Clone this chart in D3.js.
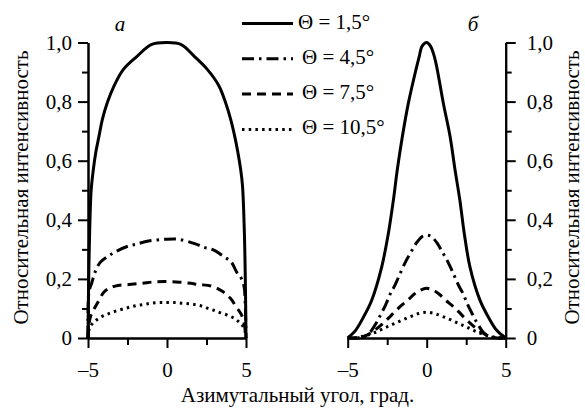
<!DOCTYPE html>
<html>
<head>
<meta charset="utf-8">
<script src="https://cdn.jsdelivr.net/npm/d3@7"></script>
</head>
<body style="margin:0;background:#fff">
<svg id="chart" width="585" height="414"></svg>
<script>
// Azimuthal intensity profiles for four tilt angles Θ, panels (а) and (б).
const seriesLabels = ["Θ = 1,5°", "Θ = 4,5°", "Θ = 7,5°", "Θ = 10,5°"];
const dashStyles = ["none", "12,5,2.5,5", "9,6", "2.5,4.2"];

const xTicksMajor = [-5, 0, 5];
const xTicksMinor = [-2.5, 2.5];
const yTicksMajor = [0, 0.2, 0.4, 0.6, 0.8, 1.0];
const yTicksMinor = [0.1, 0.3, 0.5, 0.7, 0.9];

// Panel а: [azimuth, relative intensity]
const a15 = [[-5, 0], [-4.97, 0.15], [-4.9, 0.35], [-4.8, 0.5], [-4.66, 0.571], [-4.51, 0.627],
  [-4.3, 0.684], [-4.09, 0.74], [-3.78, 0.796], [-3.35, 0.853], [-2.76, 0.909], [-1.88, 0.954],
  [-1.0, 0.993], [0, 1.0], [0.9, 0.993], [1.71, 0.954], [2.55, 0.909], [3.29, 0.853],
  [3.71, 0.796], [4.03, 0.74], [4.28, 0.684], [4.49, 0.627], [4.66, 0.571], [4.78, 0.514],
  [4.9, 0.35], [4.97, 0.15], [5, 0]];
const a45 = [[-5, 0], [-4.97, 0.14], [-4.9, 0.165], [-4.77, 0.185], [-4.56, 0.222], [-4.24, 0.255],
  [-3.71, 0.277], [-3.19, 0.294], [-2.45, 0.311], [-1.92, 0.318], [-1.18, 0.328], [-0.13, 0.334],
  [0.72, 0.334], [1.87, 0.317], [2.4, 0.306], [2.93, 0.298], [3.56, 0.277], [4.09, 0.255],
  [4.41, 0.223], [4.62, 0.21], [4.87, 0.176], [4.95, 0.12], [5, 0]];
const a75 = [[-5, 0], [-4.93, 0.05], [-4.8, 0.08], [-4.6, 0.1], [-4.3, 0.128], [-4.0, 0.155],
  [-3.6, 0.17], [-3.1, 0.178], [-2.4, 0.181], [-1.6, 0.185], [-0.8, 0.19], [0, 0.191],
  [0.8, 0.189], [1.5, 0.185], [2.0, 0.181], [2.8, 0.176], [3.5, 0.158], [4.0, 0.135],
  [4.4, 0.104], [4.7, 0.08], [4.88, 0.05], [5, 0]];
const a105 = [[-5, 0], [-4.9, 0.035], [-4.7, 0.05], [-4.24, 0.069], [-3.71, 0.082], [-3.19, 0.092],
  [-2.66, 0.1], [-2.24, 0.106], [-1.82, 0.111], [-1.4, 0.114], [-0.97, 0.118], [-0.44, 0.12],
  [0, 0.12], [0.5, 0.12], [0.92, 0.118], [1.36, 0.116], [1.78, 0.113], [2.2, 0.108], [2.6, 0.1],
  [3.0, 0.093], [3.4, 0.085], [3.9, 0.076], [4.3, 0.065], [4.6, 0.052], [4.8, 0.04],
  [4.95, 0.02], [5, 0]];

// Panel б
const b15 = [[-5, 0], [-4.5, 0.026], [-4.0, 0.071], [-3.48, 0.128], [-2.85, 0.24], [-2.43, 0.353],
  [-2.11, 0.466], [-1.86, 0.57], [-1.54, 0.682], [-1.16, 0.795], [-0.68, 0.908], [-0.47, 0.953],
  [-0.3, 0.987], [0, 1.0], [0.25, 0.987], [0.48, 0.953], [0.67, 0.908], [1.05, 0.795],
  [1.48, 0.682], [1.79, 0.57], [2.1, 0.466], [2.38, 0.353], [2.74, 0.24], [3.37, 0.128],
  [3.9, 0.071], [4.43, 0.026], [5, 0]];
const b45 = [[-5, 0], [-4.5, 0], [-4.0, 0.004], [-3.6, 0.018], [-3.2, 0.05], [-2.9, 0.08],
  [-2.6, 0.112], [-2.3, 0.15], [-2.0, 0.18], [-1.6, 0.228], [-1.3, 0.262], [-1.0, 0.29],
  [-0.7, 0.318], [-0.3, 0.343], [0, 0.348], [0.3, 0.343], [0.7, 0.318], [1.0, 0.29],
  [1.3, 0.262], [1.6, 0.228], [2.0, 0.18], [2.3, 0.15], [2.6, 0.112], [2.9, 0.08], [3.2, 0.05],
  [3.6, 0.018], [4.0, 0.004], [4.5, 0], [5, 0]];
const b75 = [[-5, 0], [-4.5, 0], [-4.0, 0.005], [-3.6, 0.015], [-3.2, 0.03], [-2.8, 0.048],
  [-2.4, 0.068], [-2.0, 0.09], [-1.6, 0.11], [-1.2, 0.128], [-0.8, 0.148], [-0.4, 0.162],
  [0, 0.168], [0.4, 0.162], [0.8, 0.148], [1.2, 0.128], [1.6, 0.11], [2.0, 0.09], [2.4, 0.068],
  [2.8, 0.048], [3.2, 0.03], [3.6, 0.015], [4.0, 0.005], [4.5, 0], [5, 0]];
const b105 = [[-5, 0], [-4.5, 0.001], [-4.0, 0.006], [-3.5, 0.014], [-3.0, 0.025], [-2.5, 0.038],
  [-2.0, 0.05], [-1.5, 0.062], [-1.0, 0.073], [-0.5, 0.083], [0, 0.087], [0.5, 0.083],
  [1.0, 0.073], [1.5, 0.062], [2.0, 0.05], [2.5, 0.038], [3.0, 0.025], [3.5, 0.014],
  [4.0, 0.006], [4.5, 0.001], [5, 0]];

const panelA = [a15, a45, a75, a105];
const panelB = [b15, b45, b75, b105];

const svg = d3.select("#chart");

// creates a text node in the serif face, styled before its content is set
function addText(parent, str) {
  return parent.append("text")
    .style("font-family", '"Liberation Serif"')
    .style("font-size", "21px")
    .attr("fill", "#000")
    .text(str);
}

const y = d3.scaleLinear().domain([0, 1]).range([338, 42.5]);
const xA = d3.scaleLinear().domain([-5, 5]).range([88, 246]);
const xB = d3.scaleLinear().domain([-5, 5]).range([347.7, 505.7]);

const fmtY = d => d === 0 ? "0" : d3.format(".1f")(d).replace(".", ",");
const fmtX = d => d < 0 ? "\u2013" + Math.abs(d) : String(d);

function styleAxis(g) {
  g.attr("font-family", null).attr("font-size", null);
  g.selectAll("path, line").attr("stroke", "#000").attr("stroke-width", 2);
  g.selectAll("text")
    .style("font-family", '"Liberation Serif"')
    .style("font-size", "21px")
    .attr("fill", "#000");
}

function drawPanel(x, curves, yAxisSide) {
  svg.append("g").attr("transform", `translate(0,${y(0)})`)
    .call(d3.axisBottom(x).tickValues(xTicksMajor).tickFormat(fmtX)
      .tickSize(10).tickSizeOuter(0).tickPadding(14))
    .call(styleAxis);
  svg.append("g").attr("transform", `translate(0,${y(0)})`)
    .call(d3.axisBottom(x).tickValues(xTicksMinor).tickFormat("").tickSize(7).tickSizeOuter(0))
    .call(styleAxis);

  const ax = yAxisSide === "left" ? d3.axisLeft : d3.axisRight;
  const yPos = yAxisSide === "left" ? x(-5) : x(5);
  svg.append("g").attr("transform", `translate(${yPos},0)`)
    .call(ax(y).tickValues(yTicksMajor).tickFormat(fmtY).tickSize(10).tickSizeOuter(0)
      .tickPadding(yAxisSide === "left" ? 6 : 11))
    .call(styleAxis);
  svg.append("g").attr("transform", `translate(${yPos},0)`)
    .call(ax(y).tickValues(yTicksMinor).tickFormat("").tickSize(6).tickSizeOuter(0))
    .call(styleAxis);

  const line = d3.line().x(d => x(d[0])).y(d => y(d[1])).curve(d3.curveCatmullRom.alpha(0.5));
  curves.forEach((c, i) => {
    svg.append("path")
      .attr("d", line(c))
      .attr("fill", "none")
      .attr("stroke", "#000")
      .attr("stroke-width", 3)
      .attr("stroke-dasharray", dashStyles[i])
      .attr("stroke-linejoin", "round");
  });
}

drawPanel(xA, panelA, "left");
drawPanel(xB, panelB, "right");

// panel letters
addText(svg, "а").attr("x", 120).attr("y", 31).attr("text-anchor", "middle").style("font-style", "italic");
addText(svg, "б").attr("x", 473).attr("y", 31).attr("text-anchor", "middle").style("font-style", "italic");

// legend
const legendX0 = 242, legendX1 = 293, legendY0 = 23.5, legendStep = 35.3;
seriesLabels.forEach((lab, i) => {
  const ly = legendY0 + i * legendStep;
  svg.append("line").attr("x1", legendX0).attr("x2", legendX1)
    .attr("y1", ly).attr("y2", ly)
    .attr("stroke", "#000").attr("stroke-width", 3)
    .attr("stroke-dasharray", dashStyles[i]);
  addText(svg, lab).attr("x", i === 0 ? 298 : 302).attr("y", ly + 5);
});

// axis titles
const yTitle = "Относительная интенсивность";
addText(svg, yTitle).attr("transform", "translate(28,187.5) rotate(-90)").attr("text-anchor", "middle");
addText(svg, yTitle).attr("transform", "translate(579,187.5) rotate(-90)").attr("text-anchor", "middle");
addText(svg, "Азимутальный угол, град.").attr("x", 297.5).attr("y", 402).attr("text-anchor", "middle");
</script>
</body>
</html>
